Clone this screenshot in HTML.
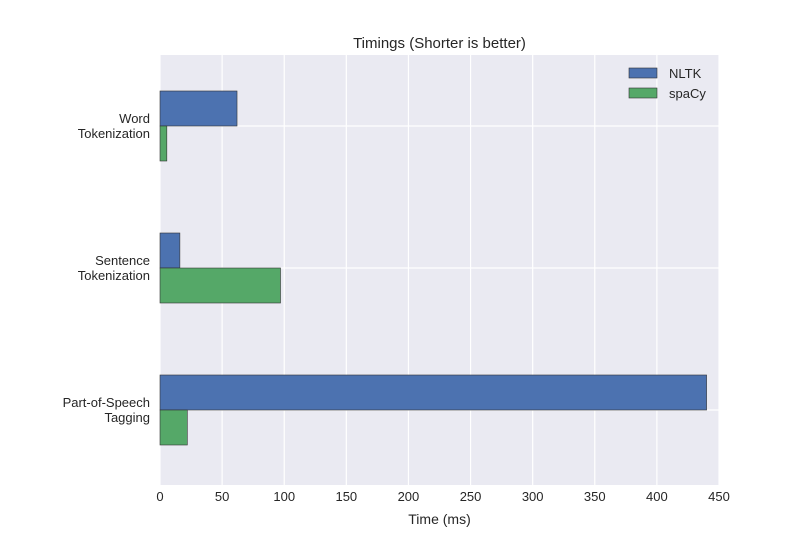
<!DOCTYPE html>
<html><head><meta charset="utf-8"><style>
body{margin:0;background:#fff;}
svg{display:block;font-family:"Liberation Sans",sans-serif;}
</style></head><body>
<svg id="chart" width="800" height="550">
<rect x="160" y="55" width="559" height="430" fill="#eaeaf2"/>
<g id="grid"></g><g id="bars"></g><g id="axes"></g>
<text x="439.5" y="48" text-anchor="middle" font-size="15" fill="#262626">Timings (Shorter is better)</text>
<text x="439.5" y="524" text-anchor="middle" font-size="14" fill="#262626">Time (ms)</text>
<g>
<rect x="629" y="68" width="28" height="10" fill="#4c72b0" stroke="#333" stroke-width="0.6"/>
<text x="669" y="78" font-size="13" fill="#262626">NLTK</text>
<rect x="629" y="88" width="28" height="10" fill="#55a868" stroke="#333" stroke-width="0.6"/>
<text x="669" y="98" font-size="13" fill="#262626">spaCy</text>
</g>
</svg>
<script>
const categories=[["Word","Tokenization"],["Sentence","Tokenization"],["Part-of-Speech","Tagging"]];
const nltk=[62,16,440];
const spacy=[5.5,97,22];
const xTicks=[0,50,100,150,200,250,300,350,400,450];
const NS="http://www.w3.org/2000/svg";
const x=v=>160+v*(559/450);
const yc=i=>126+i*142;
function mk(t,a,p){const e=document.createElementNS(NS,t);for(const k in a)e.setAttribute(k,a[k]);p.appendChild(e);return e;}
const grid=document.getElementById('grid'),bars=document.getElementById('bars'),axes=document.getElementById('axes');
xTicks.forEach(t=>{
 const l=mk('line',{x1:x(t),x2:x(t),y1:55,y2:485,stroke:'#fff','stroke-width':1.2},grid);
 
 
 const tx=mk('text',{x:x(t),y:501,'text-anchor':'middle','font-size':13,fill:'#262626'},axes);
 tx.textContent=t;
 
 
});
categories.forEach((c,i)=>{
 const l=mk('line',{x1:160,x2:719,y1:yc(i),y2:yc(i),stroke:'#fff','stroke-width':1.2},grid);
 
 
 const b1=mk('rect',{x:x(0),y:yc(i)-35,width:x(nltk[i])-x(0),height:35,fill:'#4c72b0',stroke:'#333','stroke-width':0.6},bars);
 
 
 const b2=mk('rect',{x:x(0),y:yc(i),width:x(spacy[i])-x(0),height:35,fill:'#55a868',stroke:'#333','stroke-width':0.6},bars);
 
 
 const tx=mk('text',{'text-anchor':'end','font-size':13,fill:'#262626'},axes);
 
 
 c.forEach((s,j)=>{const ts=mk('tspan',{x:150,y:yc(i)-3+j*15},tx);ts.textContent=s;});
});
</script>
</body></html>
